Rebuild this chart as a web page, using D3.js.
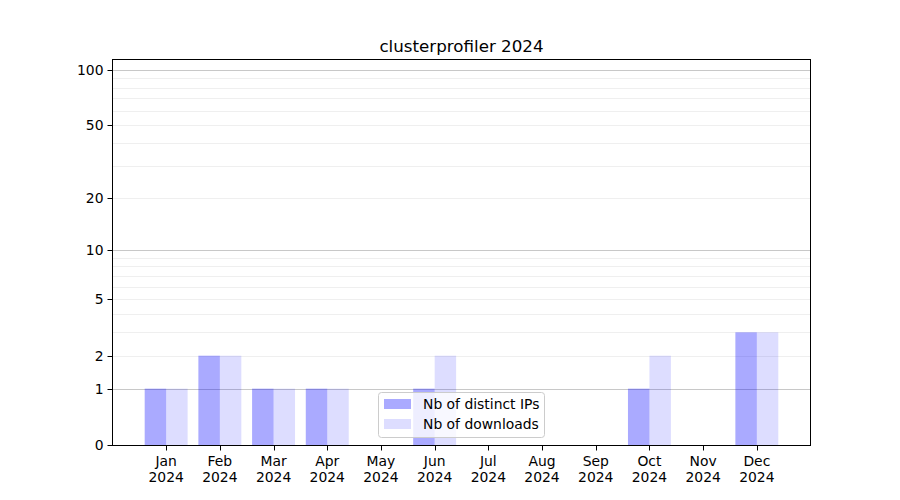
<!DOCTYPE html>
<html>
<head>
<meta charset="utf-8">
<script src="https://cdn.jsdelivr.net/npm/d3@7"></script>
<style>
  body { margin: 0; background: #fff; }
  svg { display: block; font-family: "DejaVu Sans", sans-serif; }
</style>
</head>
<body>
<svg id="chart" width="900" height="500"></svg>
<script>
const months = ["Jan","Feb","Mar","Apr","May","Jun","Jul","Aug","Sep","Oct","Nov","Dec"];
const yearLabel = "2024";
const distinctIPs = [1, 2, 1, 1, 0, 1, 0, 0, 0, 1, 0, 3];
const downloads   = [1, 2, 1, 1, 0, 2, 0, 0, 0, 2, 0, 3];
const yTicks = [0, 1, 2, 5, 10, 20, 50, 100];
const majorGrid = [1, 10, 100];
const minorGrid = [2, 3, 4, 5, 6, 7, 8, 9, 20, 30, 40, 50, 60, 70, 80, 90];
const seriesNames = ["Nb of distinct IPs", "Nb of downloads"];
const title = "clusterprofiler 2024";

const svg = d3.select("#chart");
const L = 113, R = 810, T = 60, B = 445;
const barW = 0.4;

const x = d3.scaleLinear().domain([-0.99, 11.99]).range([L, R]);
const y = d3.scaleSymlog().constant(1).domain([0, 113]).range([B, T]);

// grid
const g = svg.append("g");
g.selectAll(".minor").data(minorGrid).enter().append("line")
  .attr("x1", L).attr("x2", R)
  .attr("y1", d => Math.round(y(d)) + 0.5).attr("y2", d => Math.round(y(d)) + 0.5)
  .attr("stroke", "#ebebeb").attr("stroke-width", 0.8);
g.selectAll(".major").data(majorGrid).enter().append("line")
  .attr("x1", L).attr("x2", R)
  .attr("y1", d => Math.round(y(d)) + 0.5).attr("y2", d => Math.round(y(d)) + 0.5)
  .attr("stroke", "#c8c8c8").attr("stroke-width", 1);

// bars
const bars = svg.append("g");
bars.selectAll(".ip").data(distinctIPs).enter().append("rect")
  .attr("x", (d, i) => x(i - barW))
  .attr("width", (d, i) => x(i) - x(i - barW))
  .attr("y", d => y(d))
  .attr("height", d => y(0) - y(d))
  .attr("fill", "blue").attr("fill-opacity", 0.333);
bars.selectAll(".dl").data(downloads).enter().append("rect")
  .attr("x", (d, i) => x(i))
  .attr("width", (d, i) => x(i + barW) - x(i))
  .attr("y", d => y(d))
  .attr("height", d => y(0) - y(d))
  .attr("fill", "blue").attr("fill-opacity", 0.135);

// y axis
const yAxis = svg.append("g").attr("transform", `translate(${L - 0.5},0)`)
  .call(d3.axisLeft(y).tickValues(yTicks).tickFormat(d3.format("d")).tickSize(5).tickPadding(4));
yAxis.select(".domain").remove();
yAxis.selectAll(".tick").attr("transform", d => `translate(0,${Math.round(y(d)) + 0.5})`);
yAxis.selectAll("text").attr("font-size", "13.9px").attr("fill", "#000").attr("font-family", "DejaVu Sans");
yAxis.selectAll("line").attr("stroke", "#000").attr("stroke-width", 1);

// x axis
const xAxis = svg.append("g").attr("transform", `translate(0,${B + 0.5})`)
  .call(d3.axisBottom(x).tickValues(d3.range(months.length)).tickFormat("").tickSize(5));
xAxis.select(".domain").remove();
xAxis.selectAll(".tick").attr("transform", d => `translate(${Math.round(x(d)) + 0.5},0)`);
xAxis.selectAll("line").attr("stroke", "#000").attr("stroke-width", 1);
const xl = svg.append("g");
months.forEach((m, i) => {
  const t = xl.append("text").attr("x", x(i)).attr("y", 466)
    .attr("text-anchor", "middle").attr("font-size", "13.9px").attr("fill", "#000");
  t.append("tspan").attr("x", x(i)).attr("y", 466).text(m);
  t.append("tspan").attr("x", x(i)).attr("y", 482).text(yearLabel);
});

// frame
svg.append("rect").attr("x", L - 0.5).attr("y", T - 0.5).attr("width", R - L + 1).attr("height", B - T + 1)
  .attr("fill", "none").attr("stroke", "#000").attr("stroke-width", 1);

// title
svg.append("text").attr("x", (L + R) / 2).attr("y", 52).attr("text-anchor", "middle")
  .attr("font-size", "16.7px").attr("fill", "#000").text(title);

// legend
const lg = svg.append("g");
lg.append("rect").attr("x", 378.5).attr("y", 392.5).attr("width", 166).attr("height", 45)
  .attr("rx", 3).attr("fill", "#fff").attr("fill-opacity", 0.8)
  .attr("stroke", "#cccccc").attr("stroke-width", 1);
const lOps = [0.333, 0.135];
seriesNames.forEach((n, i) => {
  lg.append("rect").attr("x", 384).attr("y", 399 + i * 20).attr("width", 27).attr("height", 10)
    .attr("fill", "blue").attr("fill-opacity", lOps[i]);
  lg.append("text").attr("x", 423).attr("y", 409 + i * 20).attr("font-size", "13.9px")
    .attr("fill", "#000").text(n);
});
</script>
</body>
</html>
